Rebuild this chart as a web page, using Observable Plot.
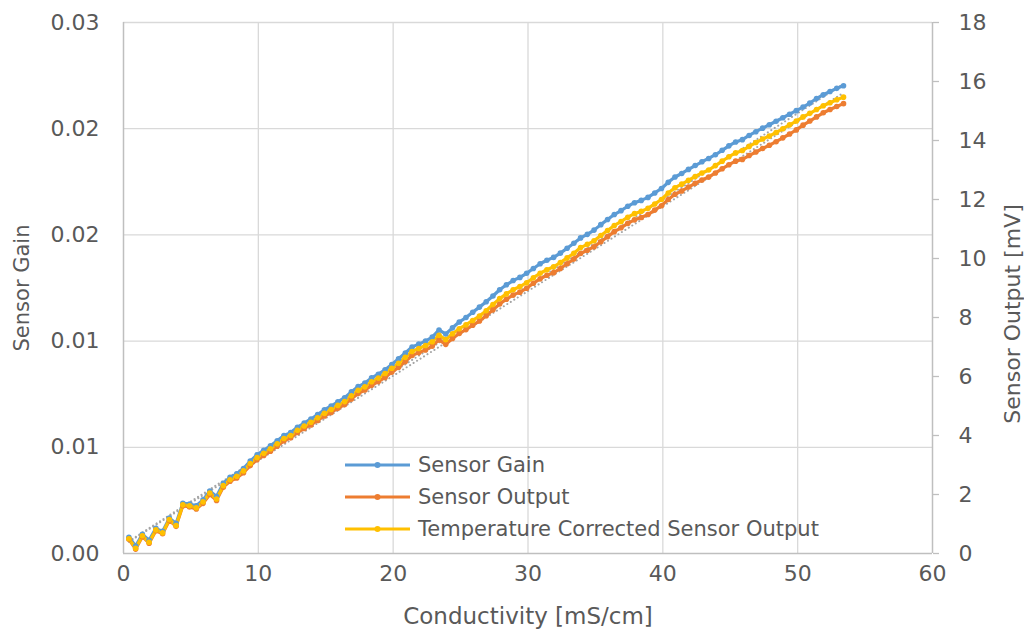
<!DOCTYPE html>
<html>
<head>
<meta charset="utf-8">
<script src="https://cdn.jsdelivr.net/npm/d3@7"></script>
<script src="https://cdn.jsdelivr.net/npm/@observablehq/plot@0.6"></script>
<style>
  html, body { margin: 0; padding: 0; background: #fff; }
  #wrap { position: relative; width: 1024px; height: 630px; overflow: hidden; font-family: "DejaVu Sans", sans-serif; }
  #legend { position: absolute; left: 344px; top: 449px; font-size: 21px; color: #595959; line-height: 32px; }
  #legend .row { display: flex; align-items: center; height: 32px; }
  #legend svg { margin-right: 7px; }
</style>
</head>
<body>
<div id="wrap"></div>
<script>
// Conductivity [mS/cm]
const conductivity = [0.4,0.9,1.4,1.9,2.4,2.9,3.4,3.9,4.4,4.9,5.4,5.9,6.4,6.9,7.4,7.9,8.4,8.9,9.4,9.9,
  10.4,10.9,11.4,11.9,12.4,12.9,13.4,13.9,14.4,14.9,15.4,15.9,16.4,16.9,17.4,17.9,18.4,18.9,19.4,19.9,
  20.4,20.9,21.4,21.9,22.4,22.9,23.4,23.9,24.4,24.9,25.4,25.9,26.4,26.9,27.4,27.9,28.4,28.9,29.4,29.9,
  30.4,30.9,31.4,31.9,32.4,32.9,33.4,33.9,34.4,34.9,35.4,35.9,36.4,36.9,37.4,37.9,38.4,38.9,39.4,39.9,
  40.4,40.9,41.4,41.9,42.4,42.9,43.4,43.9,44.4,44.9,45.4,45.9,46.4,46.9,47.4,47.9,48.4,48.9,49.4,49.9,
  50.4,50.9,51.4,51.9,52.4,52.9,53.4];

// Sensor Gain (left axis)
const sensorGain = [0.00092,0.00042,0.00108,0.00075,0.00142,0.00125,0.00200,0.00170,0.00283,0.00280,
  0.00270,0.00303,0.00353,0.00322,0.00397,0.00430,0.00450,0.00480,0.00522,0.00557,
  0.00583,0.00608,0.00637,0.00667,0.00683,0.00713,0.00737,0.00760,0.00785,0.00812,
  0.00833,0.00857,0.00880,0.00913,0.00943,0.00963,0.00992,0.01013,0.01038,0.01068,
  0.01100,0.01133,0.01167,0.01183,0.01200,0.01223,0.01263,0.01240,0.01275,0.01308,
  0.01333,0.01363,0.01392,0.01422,0.01455,0.01490,0.01518,0.01542,0.01560,0.01583,
  0.01610,0.01637,0.01657,0.01673,0.01697,0.01725,0.01753,0.01783,0.01803,0.01827,
  0.01858,0.01887,0.01915,0.01937,0.01962,0.01982,0.01995,0.02012,0.02037,0.02062,
  0.02097,0.02127,0.02147,0.02170,0.02192,0.02213,0.02232,0.02253,0.02278,0.02303,
  0.02325,0.02338,0.02362,0.02383,0.02403,0.02422,0.02442,0.02462,0.02482,0.02502,
  0.02522,0.02545,0.02570,0.02592,0.02610,0.02628,0.02643];

// Sensor Output [mV] (right axis)
const sensorOutput = [0.48,0.15,0.57,0.35,0.77,0.67,1.12,0.92,1.62,1.58,
  1.51,1.70,2.00,1.80,2.25,2.45,2.56,2.74,2.98,3.18,
  3.32,3.47,3.64,3.82,3.92,4.10,4.24,4.36,4.51,4.66,
  4.78,4.92,5.05,5.24,5.42,5.54,5.70,5.83,5.97,6.15,
  6.31,6.51,6.71,6.81,6.90,7.03,7.24,7.09,7.29,7.46,
  7.59,7.74,7.88,8.06,8.26,8.46,8.62,8.76,8.86,8.99,
  9.16,9.31,9.43,9.52,9.66,9.82,9.98,10.17,10.28,10.40,
  10.57,10.74,10.91,11.04,11.19,11.31,11.39,11.49,11.64,11.79,
  12.00,12.18,12.29,12.42,12.55,12.66,12.76,12.90,13.04,13.18,
  13.30,13.36,13.49,13.61,13.73,13.84,13.96,14.09,14.22,14.36,
  14.52,14.66,14.80,14.94,15.05,15.15,15.25];

// Temperature Corrected Sensor Output [mV] (right axis)
const correctedOutput = [0.50,0.18,0.60,0.38,0.80,0.70,1.15,0.95,1.65,1.62,
  1.55,1.75,2.05,1.85,2.30,2.50,2.62,2.80,3.05,3.25,
  3.40,3.55,3.72,3.90,4.00,4.18,4.32,4.45,4.60,4.75,
  4.88,5.02,5.15,5.35,5.53,5.65,5.82,5.95,6.10,6.28,
  6.45,6.65,6.85,6.95,7.05,7.18,7.40,7.25,7.45,7.62,
  7.75,7.90,8.05,8.23,8.44,8.64,8.80,8.94,9.05,9.18,
  9.35,9.50,9.62,9.72,9.86,10.02,10.18,10.37,10.48,10.60,
  10.78,10.95,11.12,11.25,11.40,11.52,11.60,11.70,11.85,12.00,
  12.22,12.40,12.52,12.65,12.78,12.90,13.00,13.15,13.30,13.45,
  13.58,13.66,13.80,13.93,14.05,14.15,14.27,14.40,14.53,14.66,
  14.80,14.92,15.05,15.18,15.28,15.38,15.47];

const seriesNames = ["Sensor Gain", "Sensor Output", "Temperature Corrected Sensor Output"];
const seriesColors = ["#5B9BD5", "#ED7D31", "#FFC000"];
const leftTicks = [0, 0.006, 0.012, 0.018, 0.024, 0.03];
const rightTicks = [0, 2, 4, 6, 8, 10, 12, 14, 16, 18];
const xTicks = [0, 10, 20, 30, 40, 50, 60];
const leftMax = 0.03, rightMax = 18;
const k = rightMax / leftMax; // left-axis value -> right-axis position

const rows = [];
conductivity.forEach((x, i) => {
  rows.push({series: seriesNames[0], x, y: sensorGain[i] * k});
  rows.push({series: seriesNames[1], x, y: sensorOutput[i]});
  rows.push({series: seriesNames[2], x, y: correctedOutput[i]});
});

const textColor = "#595959";
const gridColor = "#D9D9D9";
const axisColor = "#BFBFBF";
const font = "'DejaVu Sans', sans-serif";

const chart = Plot.plot({
  width: 1024,
  height: 630,
  marginLeft: 123,
  marginRight: 92,
  marginTop: 22,
  marginBottom: 77,
  style: {fontFamily: font, fontSize: "20px", color: textColor, background: "#fff"},
  x: {domain: [0, 60]},
  y: {domain: [0, rightMax]},
  color: {domain: seriesNames, range: seriesColors},
  marks: [
    Plot.ruleX(xTicks.slice(1, -1), {stroke: gridColor, strokeWidth: 1.3}),
    Plot.ruleY(leftTicks.slice(1).map(d => d * k), {stroke: gridColor, strokeWidth: 1.3}),
    Plot.ruleX([0], {stroke: axisColor, strokeWidth: 1.5}),
    Plot.ruleX([60], {stroke: axisColor, strokeWidth: 1.5}),
    Plot.ruleY([0], {stroke: axisColor, strokeWidth: 1.5}),
    Plot.axisX(xTicks, {tickSize: 0, tickPadding: 12, fill: textColor, fontSize: 22, label: null}),
    Plot.axisY(leftTicks.map(d => d * k), {anchor: "left", tickSize: 0, tickPadding: 24, fill: textColor, fontSize: 22,
      tickFormat: d => (d / k).toFixed(2), label: null}),
    Plot.axisY(rightTicks, {anchor: "right", tickSize: 6, tickPadding: 20, stroke: axisColor, strokeWidth: 1.3, fill: textColor, fontSize: 22,
      textAnchor: "start", label: null}),
    Plot.text(["Sensor Gain"], {frameAnchor: "left", textAnchor: "middle", dx: -101, rotate: -90, fill: textColor, fontSize: 21}),
    Plot.text(["Sensor Output [mV]"], {frameAnchor: "right", textAnchor: "middle", dx: 80, dy: 26, rotate: -90, fill: textColor, fontSize: 22}),
    Plot.text(["Conductivity [mS/cm]"], {frameAnchor: "bottom", textAnchor: "middle", dy: 70, fill: textColor, fontSize: 23}),
    Plot.linearRegressionY(rows.filter(d => d.series !== seriesNames[0]), {x: "x", y: "y", z: "series", stroke: "#A5A5A5", strokeWidth: 2, strokeDasharray: "0.1 4", strokeLinecap: "round", ci: 0}),
    Plot.line(rows, {x: "x", y: "y", z: "series", stroke: "series", strokeWidth: 3.2, strokeLinejoin: "round"}),
    Plot.dot(rows, {x: "x", y: "y", fill: "series", r: 2.8})
  ]
});

const wrap = document.getElementById("wrap");
wrap.appendChild(chart);

const legend = document.createElement("div");
legend.id = "legend";
seriesNames.forEach((name, i) => {
  const row = document.createElement("div");
  row.className = "row";
  row.innerHTML = `<svg width="67" height="10"><line x1="1" y1="5" x2="66" y2="5" stroke="${seriesColors[i]}" stroke-width="3"/><circle cx="33.5" cy="5" r="3" fill="${seriesColors[i]}"/></svg><span>${name}</span>`;
  legend.appendChild(row);
});
wrap.appendChild(legend);
</script>
</body>
</html>
